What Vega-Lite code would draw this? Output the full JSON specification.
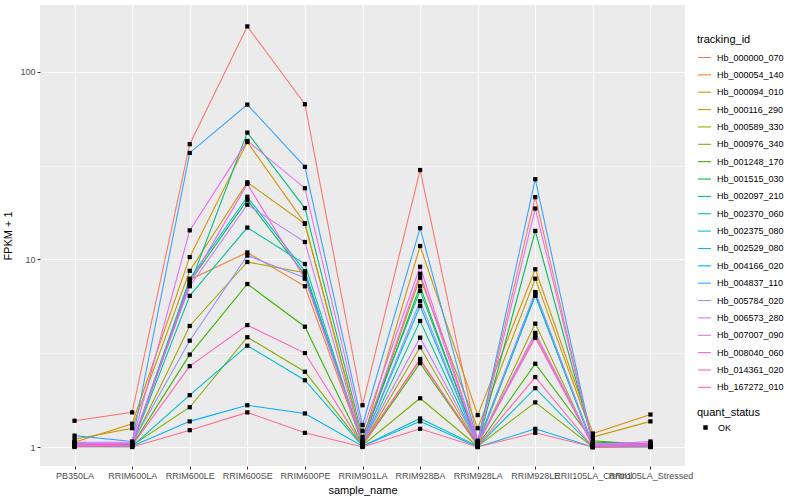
{
  "$schema": "https://vega.github.io/schema/vega-lite/v6.json",
  "autosize": {"type": "none"},
  "width": 645,
  "height": 461,
  "padding": {"left": 40, "top": 5, "right": 115, "bottom": 34},
  "background": "white",
  "view": {"fill": "#EBEBEB", "stroke": null},
  "config": {
    "font": "Liberation Sans",
    "axis": {"gridColor": "white", "domain": false, "tickColor": "#333333", "tickSize": 3, "labelColor": "#4D4D4D", "labelFontSize": 9, "titleFontWeight": "normal", "titleFontSize": 11, "titleColor": "black", "labelFont": "Liberation Sans", "titleFont": "Liberation Sans"},
    "legend": {"titleFontWeight": "normal", "titleFontSize": 11, "labelFontSize": 9, "titleColor": "black", "labelColor": "black", "labelFont": "Liberation Sans", "titleFont": "Liberation Sans"}
  },
  "data": {"values": [
{"id":"Hb_000000_070","sample":"PB350LA","fpkm":1.38,"status":"OK"},
{"id":"Hb_000000_070","sample":"RRIM600LA","fpkm":1.53,"status":"OK"},
{"id":"Hb_000000_070","sample":"RRIM600LE","fpkm":41.2,"status":"OK"},
{"id":"Hb_000000_070","sample":"RRIM600SE","fpkm":175,"status":"OK"},
{"id":"Hb_000000_070","sample":"RRIM600PE","fpkm":67.3,"status":"OK"},
{"id":"Hb_000000_070","sample":"RRIM901LA","fpkm":1.67,"status":"OK"},
{"id":"Hb_000000_070","sample":"RRIM928BA","fpkm":30,"status":"OK"},
{"id":"Hb_000000_070","sample":"RRIM928LA","fpkm":1.08,"status":"OK"},
{"id":"Hb_000000_070","sample":"RRIM928LE","fpkm":21.5,"status":"OK"},
{"id":"Hb_000000_070","sample":"RRII105LA_Control","fpkm":1.02,"status":"OK"},
{"id":"Hb_000000_070","sample":"RRII105LA_Stressed","fpkm":1.03,"status":"OK"},
{"id":"Hb_000054_140","sample":"PB350LA","fpkm":1.05,"status":"OK"},
{"id":"Hb_000054_140","sample":"RRIM600LA","fpkm":1.03,"status":"OK"},
{"id":"Hb_000054_140","sample":"RRIM600LE","fpkm":7.8,"status":"OK"},
{"id":"Hb_000054_140","sample":"RRIM600SE","fpkm":10.9,"status":"OK"},
{"id":"Hb_000054_140","sample":"RRIM600PE","fpkm":7.2,"status":"OK"},
{"id":"Hb_000054_140","sample":"RRIM901LA","fpkm":1.04,"status":"OK"},
{"id":"Hb_000054_140","sample":"RRIM928BA","fpkm":2.9,"status":"OK"},
{"id":"Hb_000054_140","sample":"RRIM928LA","fpkm":1.03,"status":"OK"},
{"id":"Hb_000054_140","sample":"RRIM928LE","fpkm":3.95,"status":"OK"},
{"id":"Hb_000054_140","sample":"RRII105LA_Control","fpkm":1.02,"status":"OK"},
{"id":"Hb_000054_140","sample":"RRII105LA_Stressed","fpkm":1.02,"status":"OK"},
{"id":"Hb_000094_010","sample":"PB350LA","fpkm":1.06,"status":"OK"},
{"id":"Hb_000094_010","sample":"RRIM600LA","fpkm":1.33,"status":"OK"},
{"id":"Hb_000094_010","sample":"RRIM600LE","fpkm":10.3,"status":"OK"},
{"id":"Hb_000094_010","sample":"RRIM600SE","fpkm":42.3,"status":"OK"},
{"id":"Hb_000094_010","sample":"RRIM600PE","fpkm":15.6,"status":"OK"},
{"id":"Hb_000094_010","sample":"RRIM901LA","fpkm":1.08,"status":"OK"},
{"id":"Hb_000094_010","sample":"RRIM928BA","fpkm":11.8,"status":"OK"},
{"id":"Hb_000094_010","sample":"RRIM928LA","fpkm":1.48,"status":"OK"},
{"id":"Hb_000094_010","sample":"RRIM928LE","fpkm":8.87,"status":"OK"},
{"id":"Hb_000094_010","sample":"RRII105LA_Control","fpkm":1.18,"status":"OK"},
{"id":"Hb_000094_010","sample":"RRII105LA_Stressed","fpkm":1.49,"status":"OK"},
{"id":"Hb_000116_290","sample":"PB350LA","fpkm":1.1,"status":"OK"},
{"id":"Hb_000116_290","sample":"RRIM600LA","fpkm":1.26,"status":"OK"},
{"id":"Hb_000116_290","sample":"RRIM600LE","fpkm":8.7,"status":"OK"},
{"id":"Hb_000116_290","sample":"RRIM600SE","fpkm":25.8,"status":"OK"},
{"id":"Hb_000116_290","sample":"RRIM600PE","fpkm":15.5,"status":"OK"},
{"id":"Hb_000116_290","sample":"RRIM901LA","fpkm":1.05,"status":"OK"},
{"id":"Hb_000116_290","sample":"RRIM928BA","fpkm":8.0,"status":"OK"},
{"id":"Hb_000116_290","sample":"RRIM928LA","fpkm":1.26,"status":"OK"},
{"id":"Hb_000116_290","sample":"RRIM928LE","fpkm":7.9,"status":"OK"},
{"id":"Hb_000116_290","sample":"RRII105LA_Control","fpkm":1.13,"status":"OK"},
{"id":"Hb_000116_290","sample":"RRII105LA_Stressed","fpkm":1.37,"status":"OK"},
{"id":"Hb_000589_330","sample":"PB350LA","fpkm":1.02,"status":"OK"},
{"id":"Hb_000589_330","sample":"RRIM600LA","fpkm":1.03,"status":"OK"},
{"id":"Hb_000589_330","sample":"RRIM600LE","fpkm":4.42,"status":"OK"},
{"id":"Hb_000589_330","sample":"RRIM600SE","fpkm":9.7,"status":"OK"},
{"id":"Hb_000589_330","sample":"RRIM600PE","fpkm":8.5,"status":"OK"},
{"id":"Hb_000589_330","sample":"RRIM901LA","fpkm":1.03,"status":"OK"},
{"id":"Hb_000589_330","sample":"RRIM928BA","fpkm":3.4,"status":"OK"},
{"id":"Hb_000589_330","sample":"RRIM928LA","fpkm":1.02,"status":"OK"},
{"id":"Hb_000589_330","sample":"RRIM928LE","fpkm":4.55,"status":"OK"},
{"id":"Hb_000589_330","sample":"RRII105LA_Control","fpkm":1.0,"status":"OK"},
{"id":"Hb_000589_330","sample":"RRII105LA_Stressed","fpkm":1.01,"status":"OK"},
{"id":"Hb_000976_340","sample":"PB350LA","fpkm":1.02,"status":"OK"},
{"id":"Hb_000976_340","sample":"RRIM600LA","fpkm":1.02,"status":"OK"},
{"id":"Hb_000976_340","sample":"RRIM600LE","fpkm":1.63,"status":"OK"},
{"id":"Hb_000976_340","sample":"RRIM600SE","fpkm":3.85,"status":"OK"},
{"id":"Hb_000976_340","sample":"RRIM600PE","fpkm":2.52,"status":"OK"},
{"id":"Hb_000976_340","sample":"RRIM901LA","fpkm":1.02,"status":"OK"},
{"id":"Hb_000976_340","sample":"RRIM928BA","fpkm":1.82,"status":"OK"},
{"id":"Hb_000976_340","sample":"RRIM928LA","fpkm":1.01,"status":"OK"},
{"id":"Hb_000976_340","sample":"RRIM928LE","fpkm":1.73,"status":"OK"},
{"id":"Hb_000976_340","sample":"RRII105LA_Control","fpkm":1.0,"status":"OK"},
{"id":"Hb_000976_340","sample":"RRII105LA_Stressed","fpkm":1.01,"status":"OK"},
{"id":"Hb_001248_170","sample":"PB350LA","fpkm":1.03,"status":"OK"},
{"id":"Hb_001248_170","sample":"RRIM600LA","fpkm":1.02,"status":"OK"},
{"id":"Hb_001248_170","sample":"RRIM600LE","fpkm":3.11,"status":"OK"},
{"id":"Hb_001248_170","sample":"RRIM600SE","fpkm":7.4,"status":"OK"},
{"id":"Hb_001248_170","sample":"RRIM600PE","fpkm":4.38,"status":"OK"},
{"id":"Hb_001248_170","sample":"RRIM901LA","fpkm":1.02,"status":"OK"},
{"id":"Hb_001248_170","sample":"RRIM928BA","fpkm":2.8,"status":"OK"},
{"id":"Hb_001248_170","sample":"RRIM928LA","fpkm":1.02,"status":"OK"},
{"id":"Hb_001248_170","sample":"RRIM928LE","fpkm":2.78,"status":"OK"},
{"id":"Hb_001248_170","sample":"RRII105LA_Control","fpkm":1.08,"status":"OK"},
{"id":"Hb_001248_170","sample":"RRII105LA_Stressed","fpkm":1.03,"status":"OK"},
{"id":"Hb_001515_030","sample":"PB350LA","fpkm":1.04,"status":"OK"},
{"id":"Hb_001515_030","sample":"RRIM600LA","fpkm":1.03,"status":"OK"},
{"id":"Hb_001515_030","sample":"RRIM600LE","fpkm":7.6,"status":"OK"},
{"id":"Hb_001515_030","sample":"RRIM600SE","fpkm":20.8,"status":"OK"},
{"id":"Hb_001515_030","sample":"RRIM600PE","fpkm":8.3,"status":"OK"},
{"id":"Hb_001515_030","sample":"RRIM901LA","fpkm":1.06,"status":"OK"},
{"id":"Hb_001515_030","sample":"RRIM928BA","fpkm":7.2,"status":"OK"},
{"id":"Hb_001515_030","sample":"RRIM928LA","fpkm":1.03,"status":"OK"},
{"id":"Hb_001515_030","sample":"RRIM928LE","fpkm":14.2,"status":"OK"},
{"id":"Hb_001515_030","sample":"RRII105LA_Control","fpkm":1.06,"status":"OK"},
{"id":"Hb_001515_030","sample":"RRII105LA_Stressed","fpkm":1.04,"status":"OK"},
{"id":"Hb_002097_210","sample":"PB350LA","fpkm":1.03,"status":"OK"},
{"id":"Hb_002097_210","sample":"RRIM600LA","fpkm":1.04,"status":"OK"},
{"id":"Hb_002097_210","sample":"RRIM600LE","fpkm":7.3,"status":"OK"},
{"id":"Hb_002097_210","sample":"RRIM600SE","fpkm":47.5,"status":"OK"},
{"id":"Hb_002097_210","sample":"RRIM600PE","fpkm":18.8,"status":"OK"},
{"id":"Hb_002097_210","sample":"RRIM901LA","fpkm":1.13,"status":"OK"},
{"id":"Hb_002097_210","sample":"RRIM928BA","fpkm":6.8,"status":"OK"},
{"id":"Hb_002097_210","sample":"RRIM928LA","fpkm":1.05,"status":"OK"},
{"id":"Hb_002097_210","sample":"RRIM928LE","fpkm":6.65,"status":"OK"},
{"id":"Hb_002097_210","sample":"RRII105LA_Control","fpkm":1.03,"status":"OK"},
{"id":"Hb_002097_210","sample":"RRII105LA_Stressed","fpkm":1.02,"status":"OK"},
{"id":"Hb_002370_060","sample":"PB350LA","fpkm":1.02,"status":"OK"},
{"id":"Hb_002370_060","sample":"RRIM600LA","fpkm":1.03,"status":"OK"},
{"id":"Hb_002370_060","sample":"RRIM600LE","fpkm":6.4,"status":"OK"},
{"id":"Hb_002370_060","sample":"RRIM600SE","fpkm":14.8,"status":"OK"},
{"id":"Hb_002370_060","sample":"RRIM600PE","fpkm":9.46,"status":"OK"},
{"id":"Hb_002370_060","sample":"RRIM901LA","fpkm":1.03,"status":"OK"},
{"id":"Hb_002370_060","sample":"RRIM928BA","fpkm":4.7,"status":"OK"},
{"id":"Hb_002370_060","sample":"RRIM928LA","fpkm":1.02,"status":"OK"},
{"id":"Hb_002370_060","sample":"RRIM928LE","fpkm":6.5,"status":"OK"},
{"id":"Hb_002370_060","sample":"RRII105LA_Control","fpkm":1.01,"status":"OK"},
{"id":"Hb_002370_060","sample":"RRII105LA_Stressed","fpkm":1.02,"status":"OK"},
{"id":"Hb_002375_080","sample":"PB350LA","fpkm":1.02,"status":"OK"},
{"id":"Hb_002375_080","sample":"RRIM600LA","fpkm":1.01,"status":"OK"},
{"id":"Hb_002375_080","sample":"RRIM600LE","fpkm":1.89,"status":"OK"},
{"id":"Hb_002375_080","sample":"RRIM600SE","fpkm":3.47,"status":"OK"},
{"id":"Hb_002375_080","sample":"RRIM600PE","fpkm":2.27,"status":"OK"},
{"id":"Hb_002375_080","sample":"RRIM901LA","fpkm":1.01,"status":"OK"},
{"id":"Hb_002375_080","sample":"RRIM928BA","fpkm":1.42,"status":"OK"},
{"id":"Hb_002375_080","sample":"RRIM928LA","fpkm":1.01,"status":"OK"},
{"id":"Hb_002375_080","sample":"RRIM928LE","fpkm":2.06,"status":"OK"},
{"id":"Hb_002375_080","sample":"RRII105LA_Control","fpkm":1.0,"status":"OK"},
{"id":"Hb_002375_080","sample":"RRII105LA_Stressed","fpkm":1.01,"status":"OK"},
{"id":"Hb_002529_080","sample":"PB350LA","fpkm":1.04,"status":"OK"},
{"id":"Hb_002529_080","sample":"RRIM600LA","fpkm":1.04,"status":"OK"},
{"id":"Hb_002529_080","sample":"RRIM600LE","fpkm":7.9,"status":"OK"},
{"id":"Hb_002529_080","sample":"RRIM600SE","fpkm":21.6,"status":"OK"},
{"id":"Hb_002529_080","sample":"RRIM600PE","fpkm":8.65,"status":"OK"},
{"id":"Hb_002529_080","sample":"RRIM901LA","fpkm":1.04,"status":"OK"},
{"id":"Hb_002529_080","sample":"RRIM928BA","fpkm":5.65,"status":"OK"},
{"id":"Hb_002529_080","sample":"RRIM928LA","fpkm":1.03,"status":"OK"},
{"id":"Hb_002529_080","sample":"RRIM928LE","fpkm":6.4,"status":"OK"},
{"id":"Hb_002529_080","sample":"RRII105LA_Control","fpkm":1.02,"status":"OK"},
{"id":"Hb_002529_080","sample":"RRII105LA_Stressed","fpkm":1.02,"status":"OK"},
{"id":"Hb_004166_020","sample":"PB350LA","fpkm":1.01,"status":"OK"},
{"id":"Hb_004166_020","sample":"RRIM600LA","fpkm":1.01,"status":"OK"},
{"id":"Hb_004166_020","sample":"RRIM600LE","fpkm":1.37,"status":"OK"},
{"id":"Hb_004166_020","sample":"RRIM600SE","fpkm":1.67,"status":"OK"},
{"id":"Hb_004166_020","sample":"RRIM600PE","fpkm":1.51,"status":"OK"},
{"id":"Hb_004166_020","sample":"RRIM901LA","fpkm":1.01,"status":"OK"},
{"id":"Hb_004166_020","sample":"RRIM928BA","fpkm":1.37,"status":"OK"},
{"id":"Hb_004166_020","sample":"RRIM928LA","fpkm":1.0,"status":"OK"},
{"id":"Hb_004166_020","sample":"RRIM928LE","fpkm":1.25,"status":"OK"},
{"id":"Hb_004166_020","sample":"RRII105LA_Control","fpkm":1.0,"status":"OK"},
{"id":"Hb_004166_020","sample":"RRII105LA_Stressed","fpkm":1.0,"status":"OK"},
{"id":"Hb_004837_110","sample":"PB350LA","fpkm":1.15,"status":"OK"},
{"id":"Hb_004837_110","sample":"RRIM600LA","fpkm":1.07,"status":"OK"},
{"id":"Hb_004837_110","sample":"RRIM600LE","fpkm":37,"status":"OK"},
{"id":"Hb_004837_110","sample":"RRIM600SE","fpkm":67,"status":"OK"},
{"id":"Hb_004837_110","sample":"RRIM600PE","fpkm":31.2,"status":"OK"},
{"id":"Hb_004837_110","sample":"RRIM901LA","fpkm":1.31,"status":"OK"},
{"id":"Hb_004837_110","sample":"RRIM928BA","fpkm":14.7,"status":"OK"},
{"id":"Hb_004837_110","sample":"RRIM928LA","fpkm":1.06,"status":"OK"},
{"id":"Hb_004837_110","sample":"RRIM928LE","fpkm":26.8,"status":"OK"},
{"id":"Hb_004837_110","sample":"RRII105LA_Control","fpkm":1.03,"status":"OK"},
{"id":"Hb_004837_110","sample":"RRII105LA_Stressed","fpkm":1.02,"status":"OK"},
{"id":"Hb_005784_020","sample":"PB350LA","fpkm":1.04,"status":"OK"},
{"id":"Hb_005784_020","sample":"RRIM600LA","fpkm":1.05,"status":"OK"},
{"id":"Hb_005784_020","sample":"RRIM600LE","fpkm":3.69,"status":"OK"},
{"id":"Hb_005784_020","sample":"RRIM600SE","fpkm":10.5,"status":"OK"},
{"id":"Hb_005784_020","sample":"RRIM600PE","fpkm":8.0,"status":"OK"},
{"id":"Hb_005784_020","sample":"RRIM901LA","fpkm":1.04,"status":"OK"},
{"id":"Hb_005784_020","sample":"RRIM928BA","fpkm":6.0,"status":"OK"},
{"id":"Hb_005784_020","sample":"RRIM928LA","fpkm":1.03,"status":"OK"},
{"id":"Hb_005784_020","sample":"RRIM928LE","fpkm":6.7,"status":"OK"},
{"id":"Hb_005784_020","sample":"RRII105LA_Control","fpkm":1.02,"status":"OK"},
{"id":"Hb_005784_020","sample":"RRII105LA_Stressed","fpkm":1.03,"status":"OK"},
{"id":"Hb_006573_280","sample":"PB350LA","fpkm":1.03,"status":"OK"},
{"id":"Hb_006573_280","sample":"RRIM600LA","fpkm":1.05,"status":"OK"},
{"id":"Hb_006573_280","sample":"RRIM600LE","fpkm":7.2,"status":"OK"},
{"id":"Hb_006573_280","sample":"RRIM600SE","fpkm":19.6,"status":"OK"},
{"id":"Hb_006573_280","sample":"RRIM600PE","fpkm":12.4,"status":"OK"},
{"id":"Hb_006573_280","sample":"RRIM901LA","fpkm":1.05,"status":"OK"},
{"id":"Hb_006573_280","sample":"RRIM928BA","fpkm":3.83,"status":"OK"},
{"id":"Hb_006573_280","sample":"RRIM928LA","fpkm":1.04,"status":"OK"},
{"id":"Hb_006573_280","sample":"RRIM928LE","fpkm":4.06,"status":"OK"},
{"id":"Hb_006573_280","sample":"RRII105LA_Control","fpkm":1.03,"status":"OK"},
{"id":"Hb_006573_280","sample":"RRII105LA_Stressed","fpkm":1.07,"status":"OK"},
{"id":"Hb_007007_090","sample":"PB350LA","fpkm":1.06,"status":"OK"},
{"id":"Hb_007007_090","sample":"RRIM600LA","fpkm":1.06,"status":"OK"},
{"id":"Hb_007007_090","sample":"RRIM600LE","fpkm":14.3,"status":"OK"},
{"id":"Hb_007007_090","sample":"RRIM600SE","fpkm":42.9,"status":"OK"},
{"id":"Hb_007007_090","sample":"RRIM600PE","fpkm":24,"status":"OK"},
{"id":"Hb_007007_090","sample":"RRIM901LA","fpkm":1.22,"status":"OK"},
{"id":"Hb_007007_090","sample":"RRIM928BA","fpkm":9.15,"status":"OK"},
{"id":"Hb_007007_090","sample":"RRIM928LA","fpkm":1.05,"status":"OK"},
{"id":"Hb_007007_090","sample":"RRIM928LE","fpkm":18.7,"status":"OK"},
{"id":"Hb_007007_090","sample":"RRII105LA_Control","fpkm":1.04,"status":"OK"},
{"id":"Hb_007007_090","sample":"RRII105LA_Stressed","fpkm":1.05,"status":"OK"},
{"id":"Hb_008040_060","sample":"PB350LA","fpkm":1.02,"status":"OK"},
{"id":"Hb_008040_060","sample":"RRIM600LA","fpkm":1.04,"status":"OK"},
{"id":"Hb_008040_060","sample":"RRIM600LE","fpkm":7.5,"status":"OK"},
{"id":"Hb_008040_060","sample":"RRIM600SE","fpkm":25.3,"status":"OK"},
{"id":"Hb_008040_060","sample":"RRIM600PE","fpkm":7.9,"status":"OK"},
{"id":"Hb_008040_060","sample":"RRIM901LA","fpkm":1.07,"status":"OK"},
{"id":"Hb_008040_060","sample":"RRIM928BA","fpkm":8.4,"status":"OK"},
{"id":"Hb_008040_060","sample":"RRIM928LA","fpkm":1.04,"status":"OK"},
{"id":"Hb_008040_060","sample":"RRIM928LE","fpkm":3.83,"status":"OK"},
{"id":"Hb_008040_060","sample":"RRII105LA_Control","fpkm":1.02,"status":"OK"},
{"id":"Hb_008040_060","sample":"RRII105LA_Stressed","fpkm":1.04,"status":"OK"},
{"id":"Hb_014361_020","sample":"PB350LA","fpkm":1.02,"status":"OK"},
{"id":"Hb_014361_020","sample":"RRIM600LA","fpkm":1.02,"status":"OK"},
{"id":"Hb_014361_020","sample":"RRIM600LE","fpkm":2.7,"status":"OK"},
{"id":"Hb_014361_020","sample":"RRIM600SE","fpkm":4.47,"status":"OK"},
{"id":"Hb_014361_020","sample":"RRIM600PE","fpkm":3.17,"status":"OK"},
{"id":"Hb_014361_020","sample":"RRIM901LA","fpkm":1.02,"status":"OK"},
{"id":"Hb_014361_020","sample":"RRIM928BA","fpkm":2.95,"status":"OK"},
{"id":"Hb_014361_020","sample":"RRIM928LA","fpkm":1.01,"status":"OK"},
{"id":"Hb_014361_020","sample":"RRIM928LE","fpkm":2.36,"status":"OK"},
{"id":"Hb_014361_020","sample":"RRII105LA_Control","fpkm":1.0,"status":"OK"},
{"id":"Hb_014361_020","sample":"RRII105LA_Stressed","fpkm":1.02,"status":"OK"},
{"id":"Hb_167272_010","sample":"PB350LA","fpkm":1.0,"status":"OK"},
{"id":"Hb_167272_010","sample":"RRIM600LA","fpkm":1.0,"status":"OK"},
{"id":"Hb_167272_010","sample":"RRIM600LE","fpkm":1.23,"status":"OK"},
{"id":"Hb_167272_010","sample":"RRIM600SE","fpkm":1.53,"status":"OK"},
{"id":"Hb_167272_010","sample":"RRIM600PE","fpkm":1.19,"status":"OK"},
{"id":"Hb_167272_010","sample":"RRIM901LA","fpkm":1.0,"status":"OK"},
{"id":"Hb_167272_010","sample":"RRIM928BA","fpkm":1.25,"status":"OK"},
{"id":"Hb_167272_010","sample":"RRIM928LA","fpkm":1.0,"status":"OK"},
{"id":"Hb_167272_010","sample":"RRIM928LE","fpkm":1.19,"status":"OK"},
{"id":"Hb_167272_010","sample":"RRII105LA_Control","fpkm":1.0,"status":"OK"},
{"id":"Hb_167272_010","sample":"RRII105LA_Stressed","fpkm":1.0,"status":"OK"}
  ]},
  "encoding": {
    "x": {
      "field": "sample", "type": "ordinal", "title": "sample_name",
      "sort": ["PB350LA","RRIM600LA","RRIM600LE","RRIM600SE","RRIM600PE","RRIM901LA","RRIM928BA","RRIM928LA","RRIM928LE","RRII105LA_Control","RRII105LA_Stressed"],
      "scale": {"type": "point", "padding": 0.6},
      "axis": {"labelAngle": 0, "labelOverlap": false, "labelBound": false, "labelPadding": 2, "titlePadding": 4, "gridWidth": 1.07, "grid": true}
    },
    "y": {
      "field": "fpkm", "type": "quantitative", "title": "FPKM + 1",
      "scale": {"type": "log", "domain": [0.792, 227.6], "nice": false, "zero": false},
      "axis": {
        "values": [1, 3.16227766, 10, 31.6227766, 100],
        "labelExpr": "(datum.value == 1 || datum.value == 10 || datum.value == 100) ? format(datum.value, 'd') : ''",
        "gridWidth": {"condition": {"test": "datum.value == 1 || datum.value == 10 || datum.value == 100", "value": 1.07}, "value": 0.53},
        "tickOpacity": {"condition": {"test": "datum.value == 1 || datum.value == 10 || datum.value == 100", "value": 1}, "value": 0},
        "labelPadding": 2, "titlePadding": 6
      }
    }
  },
  "layer": [
    {
      "mark": {"type": "line", "strokeWidth": 1.07},
      "encoding": {
        "color": {
          "field": "id", "type": "nominal", "title": "tracking_id",
          "scale": {
            "domain": ["Hb_000000_070","Hb_000054_140","Hb_000094_010","Hb_000116_290","Hb_000589_330","Hb_000976_340","Hb_001248_170","Hb_001515_030","Hb_002097_210","Hb_002370_060","Hb_002375_080","Hb_002529_080","Hb_004166_020","Hb_004837_110","Hb_005784_020","Hb_006573_280","Hb_007007_090","Hb_008040_060","Hb_014361_020","Hb_167272_010"],
            "range": ["#F8766D","#EA8331","#D89000","#C09B00","#A3A500","#7CAE00","#39B600","#00BB4E","#00BF7D","#00C1A3","#00BFC4","#00BAE0","#00B0F6","#35A2FF","#9590FF","#C77CFF","#E76BF3","#FA62DB","#FF62BC","#FF6C91"]
          },
          "legend": {"orient": "none", "legendX": 657, "legendY": 29, "symbolType": "stroke", "symbolSize": 169, "symbolStrokeWidth": 1.1, "rowPadding": 4.36, "titlePadding": 5, "labelOffset": 5, "columns": 1}
        }
      }
    },
    {
      "mark": {"type": "point", "filled": true, "color": "black", "opacity": 1, "size": 18},
      "encoding": {
        "shape": {
          "field": "status", "type": "nominal", "title": "quant_status",
          "scale": {"range": ["square"]},
          "legend": {"orient": "none", "legendX": 657, "legendY": 402, "symbolSize": 20, "symbolFillColor": "black", "symbolStrokeColor": "black", "titlePadding": 5, "labelOffset": 8, "symbolOffset": 4}
        }
      }
    }
  ]
}
